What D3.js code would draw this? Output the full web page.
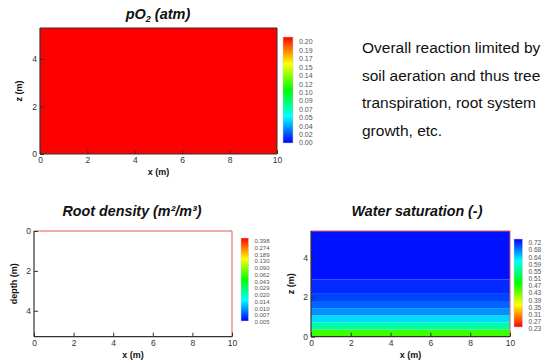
<!DOCTYPE html>
<html>
<head>
<meta charset="utf-8">
<script src="https://cdn.jsdelivr.net/npm/d3@7"></script>
<style>
  body { margin: 0; background: #fff; }
  svg { display: block; font-family: "Liberation Sans", Arial, sans-serif; }
</style>
</head>
<body>
<svg id="chart" width="551" height="364"></svg>
<script>
// pO2 panel: one uniform layer over the whole domain
const pO2Edges = [0, 5.3];
const pO2Values = [0.20];
const pO2Labels = ["0.20", "0.19", "0.17", "0.15", "0.14", "0.12", "0.10",
  "0.09", "0.07", "0.05", "0.04", "0.02", "0.00"];

// root density panel: nothing drawn yet (empty field)
const rootEdges = [];
const rootValues = [];
const rootLabels = ["0.398", "0.274", "0.189", "0.130", "0.090", "0.062", "0.043",
  "0.029", "0.020", "0.014", "0.010", "0.007", "0.005"];

// water saturation panel: horizontal layers, bottom to top
const satEdges = [0, 0.36, 0.71, 1.07, 1.44, 1.80, 2.20, 2.88, 5.33];
const satValues = [0.445, 0.552, 0.615, 0.650, 0.672, 0.688, 0.700, 0.712];
const satLabels = ["0.72", "0.68", "0.64", "0.59", "0.55", "0.51", "0.47",
  "0.43", "0.39", "0.35", "0.31", "0.27", "0.23"];

const xTicks = [0, 2, 4, 6, 8, 10];
const zTicks = [0, 2, 4];

const noteLines = ["Overall reaction limited by", "soil aeration and thus tree",
  "transpiration, root system", "growth, etc."];

const svg = d3.select("#chart");
const defs = svg.append("defs");

// blue (0) -> cyan -> green -> yellow -> red (1)
const rainbow = d3.scaleLinear()
  .domain([0, 0.25, 0.5, 0.75, 1])
  .range(["#0000ff", "#00ffff", "#00ff00", "#ffff00", "#ff0000"]);

function gradient(id, topIsRed) {
  const lg = defs.append("linearGradient").attr("id", id)
    .attr("x1", 0).attr("y1", 0).attr("x2", 0).attr("y2", 1);
  d3.range(0, 1.001, 0.05).forEach(o => {
    lg.append("stop").attr("offset", o)
      .attr("stop-color", rainbow(topIsRed ? 1 - o : o));
  });
}

function panel(p) {
  const g = svg.append("g");
  const x = d3.scaleLinear().domain([0, 10]).range([p.left, p.right]);
  const y = d3.scaleLinear().domain([0, p.zMax])
    .range(p.depth ? [p.top, p.bottom] : [p.bottom, p.top]);

  // field layers
  g.selectAll("rect.cell").data(p.values).join("rect")
    .attr("class", "cell")
    .attr("x", x(0))
    .attr("width", x(10) - x(0))
    .attr("y", (d, i) => Math.min(y(p.edges[i]), y(p.edges[i + 1])))
    .attr("height", (d, i) => Math.abs(y(p.edges[i + 1]) - y(p.edges[i])))
    .attr("fill", d => p.color(d));

  // frame
  g.append("line").attr("x1", x(0)).attr("x2", x(10)).attr("y1", p.top).attr("y2", p.top)
    .attr("stroke", p.frame).attr("stroke-width", 1);
  g.append("line").attr("x1", x(10)).attr("x2", x(10)).attr("y1", p.top).attr("y2", p.bottom)
    .attr("stroke", p.frame).attr("stroke-width", 1);

  const minor = d3.range(0, 10.01, 0.5).filter(v => v % 2 !== 0);
  const minorZ = d3.range(0, p.zMax, 0.5).filter(v => v % 2 !== 0);

  const xa = g.append("g").attr("transform", `translate(0,${p.bottom})`);
  xa.call(d3.axisBottom(x).tickValues(minor).tickSize(-2).tickFormat(""));
  xa.call(d3.axisBottom(x).tickValues(xTicks).tickFormat(d3.format("d"))
    .tickSizeInner(-4).tickSizeOuter(0).tickPadding(3));

  const ya = g.append("g").attr("transform", `translate(${p.left},0)`);
  ya.call(d3.axisLeft(y).tickValues(minorZ).tickSize(-2).tickFormat(""));
  ya.call(d3.axisLeft(y).tickValues(zTicks).tickFormat(d3.format("d"))
    .tickSizeInner(-4).tickSizeOuter(0).tickPadding(3));

  [xa, ya].forEach(a => {
    a.selectAll(".domain").remove();
    a.selectAll(".tick line").attr("stroke", "#333");
    a.selectAll(".tick text").attr("font-size", 8.5).attr("fill", "#333")
      .attr("font-family", "Liberation Sans, Arial, sans-serif");
  });
  g.append("line").attr("x1", p.left).attr("x2", p.left).attr("y1", p.top).attr("y2", p.bottom)
    .attr("stroke", "#333").attr("stroke-width", 1.2);
  g.append("line").attr("x1", p.left).attr("x2", p.right).attr("y1", p.bottom).attr("y2", p.bottom)
    .attr("stroke", "#333").attr("stroke-width", 1.2);

  // axis titles
  g.append("text").attr("x", (p.left + p.right) / 2).attr("y", p.bottom + 21)
    .attr("text-anchor", "middle").attr("font-size", 9).attr("font-weight", "bold")
    .attr("fill", "#111").text("x (m)");
  g.append("text")
    .attr("transform", `translate(${p.yLabelX},${(p.top + p.bottom) / 2}) rotate(-90)`)
    .attr("text-anchor", "middle").attr("font-size", 9).attr("font-weight", "bold")
    .attr("fill", "#111").text(p.yLabel);

  // colour bar
  gradient(p.id, p.barTopRed);
  g.append("rect").attr("x", p.bar[0]).attr("y", p.bar[1])
    .attr("width", p.bar[2]).attr("height", p.bar[3])
    .attr("fill", `url(#${p.id})`).attr("stroke", "#ccc").attr("stroke-width", 0.5);
  const ly = d3.scaleLinear().domain([0, p.labels.length - 1]).range(p.labelRange);
  g.selectAll("text.cb").data(p.labels).join("text")
    .attr("class", "cb")
    .attr("x", p.bar[0] + p.bar[2] + 6)
    .attr("y", (d, i) => ly(i))
    .attr("dy", "0.35em")
    .attr("font-size", p.labelSize).attr("fill", "#555")
    .text(d => d);

  return g;
}

// top panel: pO2
panel({
  id: "gA", left: 40, right: 277, top: 28, bottom: 154, zMax: 5.3, depth: false,
  edges: pO2Edges, values: pO2Values, color: v => rainbow(v / 0.20),
  frame: "#333", yLabel: "z (m)", yLabelX: 22,
  bar: [283, 37, 10, 106], barTopRed: true, labels: pO2Labels,
  labelRange: [42, 143], labelSize: 7
});
const tA = svg.append("text").attr("x", 158).attr("y", 19).attr("text-anchor", "middle")
  .attr("font-size", 14.5).attr("font-weight", "bold").attr("font-style", "italic").attr("fill", "#111");
tA.append("tspan").text("pO");
tA.append("tspan").attr("font-size", 9).attr("dy", 3).text("2");
tA.append("tspan").attr("dy", -3).text(" (atm)");

// bottom left: root density
panel({
  id: "gB", left: 34, right: 232, top: 231, bottom: 336.7, zMax: 5.3, depth: true,
  edges: rootEdges, values: rootValues, color: v => rainbow(v),
  frame: "#e05a5a", yLabel: "depth (m)", yLabelX: 17,
  bar: [241, 238, 7.5, 83], barTopRed: true, labels: rootLabels,
  labelRange: [241, 322], labelSize: 6
});
svg.append("text").attr("x", 132).attr("y", 216).attr("text-anchor", "middle")
  .attr("font-size", 14.3).attr("font-weight", "bold").attr("font-style", "italic").attr("fill", "#111")
  .text("Root density (m²/m³)");

// bottom right: water saturation (high saturation = blue)
panel({
  id: "gC", left: 311, right: 510, top: 231, bottom: 336.7, zMax: 5.33, depth: false,
  edges: satEdges, values: satValues, color: v => rainbow((0.72 - v) / 0.49),
  frame: "#e05a5a", yLabel: "z (m)", yLabelX: 294,
  bar: [514, 239, 8.5, 88], barTopRed: false, labels: satLabels,
  labelRange: [243, 329], labelSize: 6.5
});
svg.append("text").attr("x", 417).attr("y", 216).attr("text-anchor", "middle")
  .attr("font-size", 14.3).attr("font-weight", "bold").attr("font-style", "italic").attr("fill", "#111")
  .text("Water saturation (-)");

// note
svg.append("g").selectAll("text").data(noteLines).join("text")
  .attr("x", 362).attr("y", (d, i) => 53 + i * 27.5)
  .attr("font-size", 15.5).attr("fill", "#111").text(d => d);
</script>
</body>
</html>
